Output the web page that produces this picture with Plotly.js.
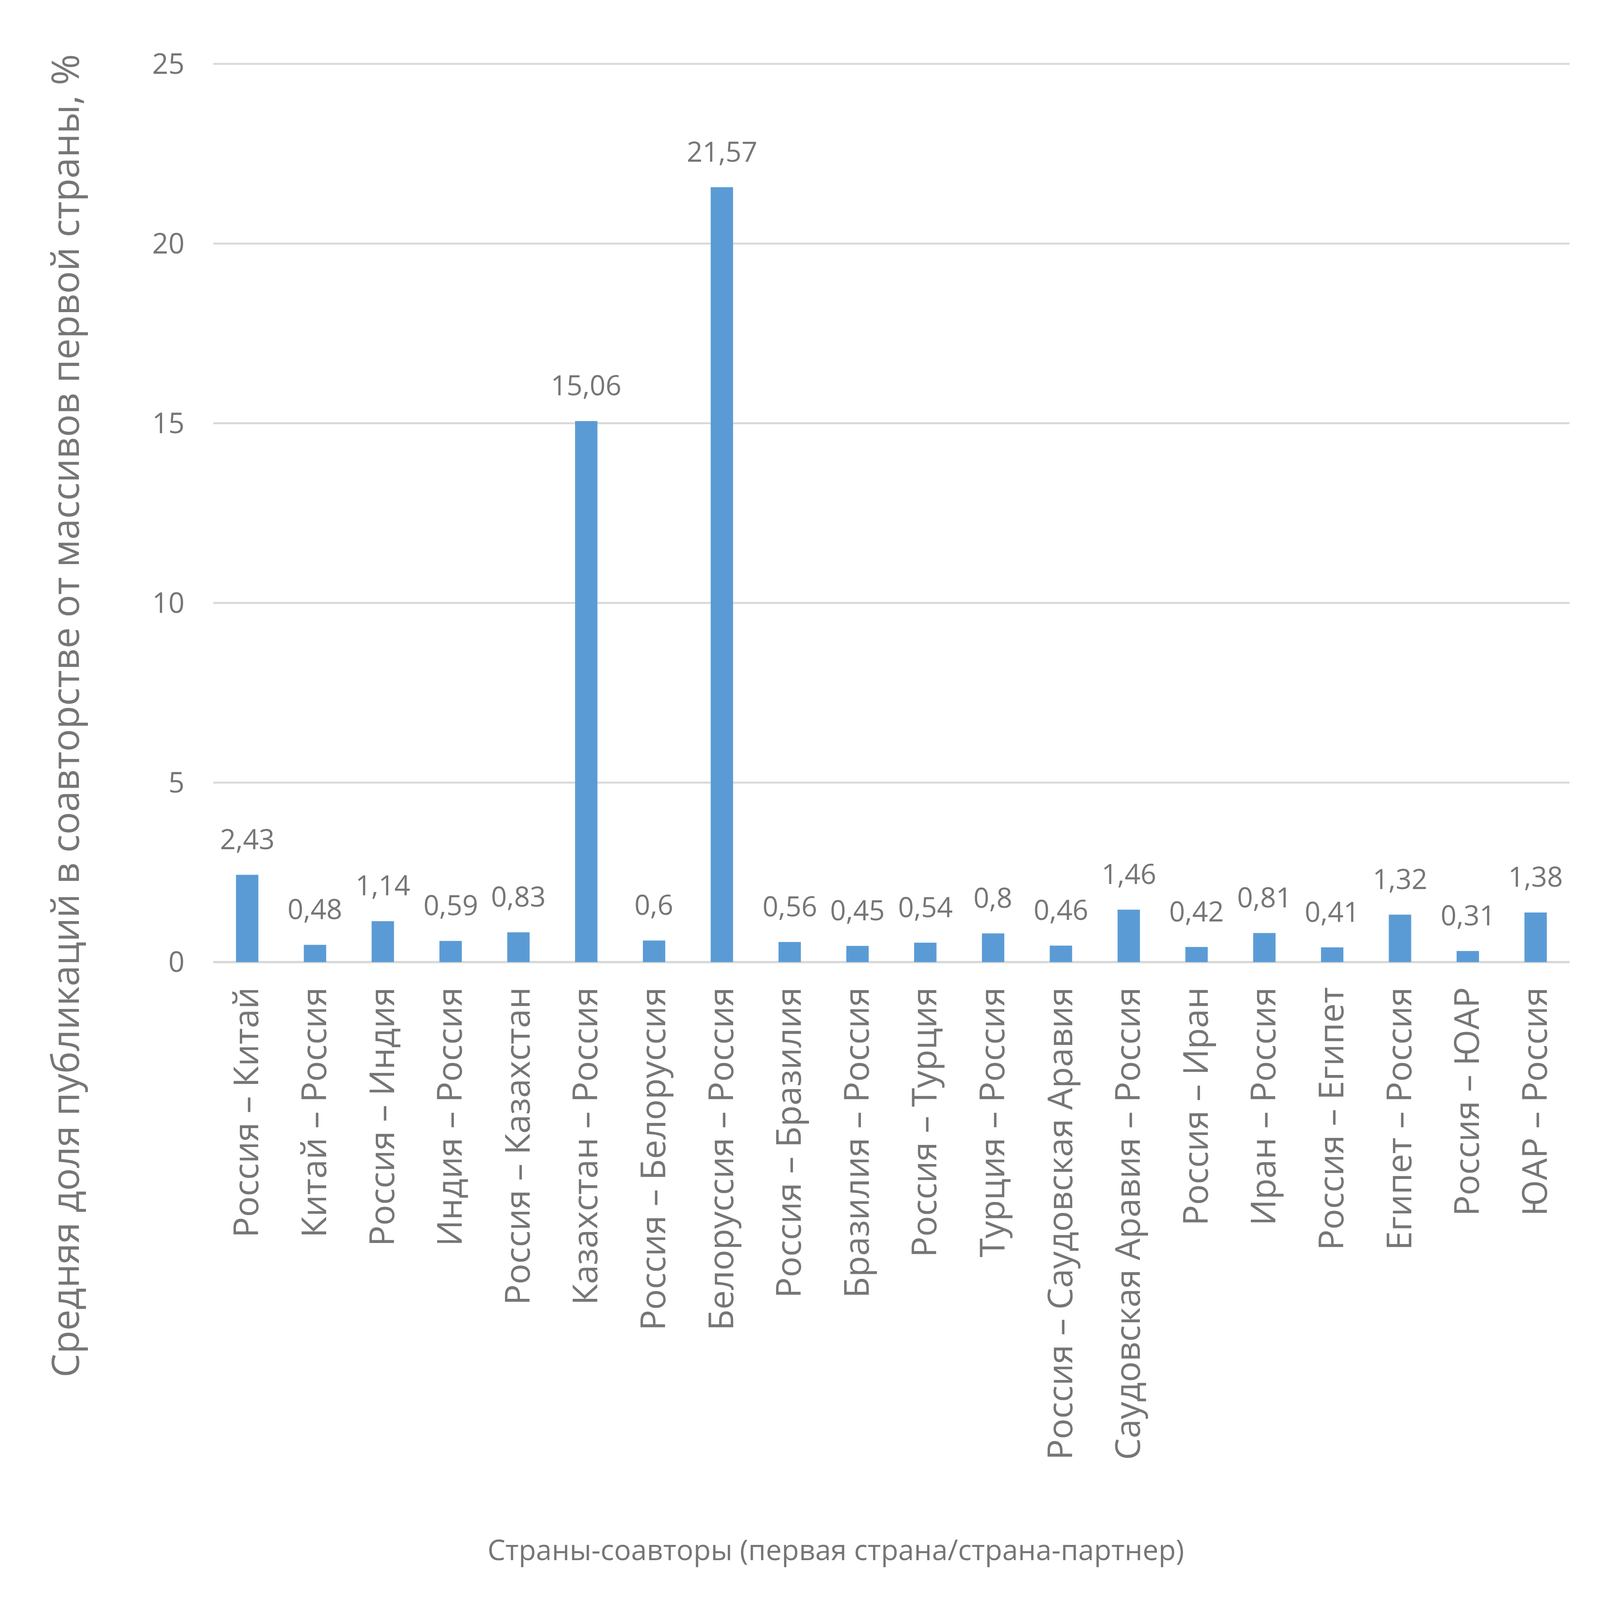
<!DOCTYPE html>
<html>
<head>
<meta charset="utf-8">
<meta name="viewport" content="width=device-width, initial-scale=1">
<script src="https://cdn.plot.ly/plotly-3.0.1.min.js"></script>
<style>
  html, body { margin: 0; padding: 0; background: #fff; overflow: hidden; }
</style>
</head>
<body>
<div id="chart"></div>
<script>
// pairs: first country / partner country
var pairs = [
  'Россия – Китай', 'Китай – Россия', 'Россия – Индия', 'Индия – Россия',
  'Россия – Казахстан', 'Казахстан – Россия', 'Россия – Белоруссия', 'Белоруссия – Россия',
  'Россия – Бразилия', 'Бразилия – Россия', 'Россия – Турция', 'Турция – Россия',
  'Россия – Саудовская Аравия', 'Саудовская Аравия – Россия', 'Россия – Иран', 'Иран – Россия',
  'Россия – Египет', 'Египет – Россия', 'Россия – ЮАР', 'ЮАР – Россия'
];
// average share, %
var shares = [2.43, 0.48, 1.14, 0.59, 0.83, 15.06, 0.6, 21.57, 0.56, 0.45,
              0.54, 0.8, 0.46, 1.46, 0.42, 0.81, 0.41, 1.32, 0.31, 1.38];
var yTicks = [0, 5, 10, 15, 20, 25];

var xTitle = 'Страны-соавторы (первая страна/страна-партнер)';
var yTitle = 'Средняя доля публикаций в соавторстве от массивов первой страны, %';

var grey = '#767676';
var font = '"Open Sans", "DejaVu Sans", sans-serif';

// the design is 5650x4415; stretch it over the window we actually get
var W = window.innerWidth || 5650, H = window.innerHeight || 4415;
var sx = W / 5650, sy = H / 4415, s = Math.min(sx, sy);
var el = document.getElementById('chart');
el.style.width = W + 'px';
el.style.height = H + 'px';

var trace = {
  type: 'bar',
  x: pairs,
  y: shares,
  marker: {color: '#5b9bd5'},
  hoverinfo: 'x+y'
};

// data labels with comma decimals, lifted a little above each bar
var labels = shares.map(function(v, i){
  return {
    x: pairs[i], y: v, xref: 'x', yref: 'y',
    text: String(v).replace('.', ','),
    showarrow: false, yanchor: 'bottom', yshift: 46 * sy,
    font: {family: font, size: 98 * sx, color: grey}
  };
});

// rotated texts run vertically, so they follow the vertical scale
labels.push({
  xref: 'paper', yref: 'paper', x: -0.110, y: 0.274,
  text: yTitle, textangle: -90, showarrow: false,
  xanchor: 'center', yanchor: 'middle',
  font: {family: font, size: 104 * sy, color: grey}
});
labels.push({
  xref: 'paper', yref: 'paper', x: 0.459, y: -0.653,
  text: xTitle, showarrow: false,
  xanchor: 'center', yanchor: 'middle',
  font: {family: font, size: 100 * sx, color: grey}
});

var layout = {
  width: W, height: H,
  margin: {l: 753 * sx, r: 108 * sx, t: 174 * sy, b: 1760 * sy, pad: 0},
  paper_bgcolor: '#fff', plot_bgcolor: '#fff',
  showlegend: false,
  bargap: 0.67,
  xaxis: {
    type: 'category',
    tickangle: -90,
    ticks: 'outside', ticklen: 30 * sy, tickcolor: 'rgba(0,0,0,0)',
    tickfont: {family: font, size: 95 * sy, color: grey},
    showgrid: false, showline: false, zeroline: false
  },
  yaxis: {
    range: [0, 25.03],
    tickvals: yTicks,
    ticks: 'outside', ticklen: 80 * sx, tickcolor: 'rgba(0,0,0,0)',
    tickfont: {family: font, size: 100 * sx, color: grey},
    showgrid: true, gridcolor: '#d9d9d9', gridwidth: 7 * s,
    zeroline: true, zerolinecolor: '#d9d9d9', zerolinewidth: 7 * s,
    showline: false
  },
  annotations: labels
};

Plotly.newPlot('chart', [trace], layout, {staticPlot: true});
</script>
</body>
</html>
